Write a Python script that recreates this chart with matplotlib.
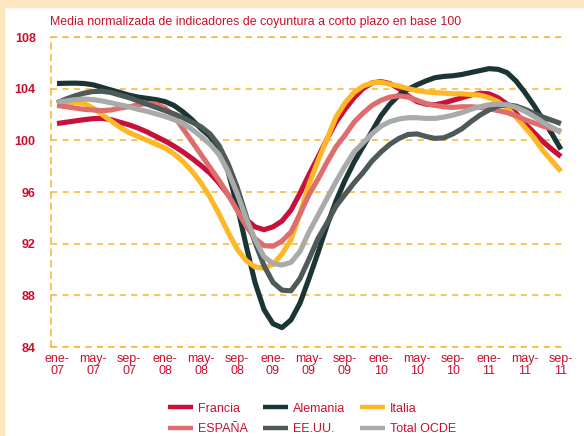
import matplotlib
matplotlib.use("Agg")
import matplotlib.pyplot as plt
from matplotlib.patches import Rectangle

# ---------------- data ----------------
tick_labels = ["ene-\n07", "may-\n07", "sep-\n07", "ene-\n08", "may-\n08", "sep-\n08",
               "ene-\n09", "may-\n09", "sep-\n09", "ene-\n10", "may-\n10", "sep-\n10",
               "ene-\n11", "may-\n11", "sep-\n11"]
months = list(range(57))  # ene-07 .. sep-11, monthly

francia = [101.3, 101.4, 101.5, 101.6, 101.68, 101.7, 101.6, 101.4, 101.2, 100.95,
           100.65, 100.3, 99.95, 99.55, 99.1, 98.6, 98.05, 97.45, 96.7, 95.8,
           94.8, 93.9, 93.3, 93.08, 93.3, 93.75, 94.6, 95.9, 97.35, 98.7,
           100.1, 101.4, 102.4, 103.3, 104.0, 104.45, 104.55, 104.4, 104.0, 103.45,
           103.0, 102.8, 102.75, 102.9, 103.1, 103.3, 103.5, 103.65, 103.6, 103.3,
           102.8, 102.1, 101.3, 100.6, 99.9, 99.3, 98.75]
alemania = [104.4, 104.42, 104.43, 104.4, 104.3, 104.1, 103.9, 103.7, 103.5, 103.35,
            103.25, 103.15, 103.0, 102.7, 102.2, 101.6, 100.9, 100.3, 99.2, 97.6,
            95.0, 91.9, 89.0, 86.9, 85.8, 85.5, 86.1, 87.4, 89.3, 91.3,
            93.4, 95.3, 96.9, 98.3, 99.5, 100.7, 101.9, 102.8, 103.5, 103.95,
            104.3, 104.6, 104.85, 104.95, 105.0, 105.1, 105.25, 105.4, 105.55, 105.5,
            105.25, 104.6, 103.7, 102.7, 101.6, 100.5, 99.3]
italia = [102.8, 102.9, 102.95, 102.85, 102.5, 102.0, 101.5, 101.0, 100.6, 100.3,
          100.0, 99.7, 99.4, 98.95, 98.35, 97.6, 96.7, 95.6, 94.3, 92.9,
          91.6, 90.7, 90.2, 90.1, 90.4, 91.2, 92.3, 94.3, 96.6, 98.4,
          100.1, 101.8, 102.9, 103.7, 104.2, 104.45, 104.5, 104.35, 104.2, 104.0,
          103.85, 103.75, 103.7, 103.65, 103.6, 103.6, 103.55, 103.5, 103.3, 103.0,
          102.5, 101.8, 101.0, 100.2, 99.2, 98.4, 97.6]
espana = [102.7, 102.6, 102.5, 102.4, 102.35, 102.3, 102.35, 102.5, 102.6, 102.75,
          102.85, 102.8, 102.5, 101.9, 100.9, 99.9, 98.9, 97.9, 96.9, 95.8,
          94.6, 93.4, 92.4, 91.85, 91.8, 92.2, 92.9, 94.3, 95.8, 97.0,
          98.3, 99.5, 100.4, 101.4, 102.1, 102.7, 103.1, 103.35, 103.45, 103.35,
          103.1, 102.85, 102.7, 102.6, 102.55, 102.6, 102.6, 102.55, 102.45, 102.3,
          102.15, 101.9, 101.6, 101.35, 101.1, 100.9, 100.7]
eeuu = [102.9, 103.2, 103.45, 103.65, 103.78, 103.8, 103.7, 103.5, 103.3, 103.05,
        102.8, 102.55, 102.3, 102.05, 101.75, 101.4, 101.05, 100.5, 99.6, 98.2,
        96.4, 94.2, 92.1, 90.3, 89.0, 88.4, 88.35, 89.3, 90.8, 92.4,
        93.6, 94.9, 95.8, 96.7, 97.5, 98.4, 99.1, 99.7, 100.15, 100.45,
        100.5, 100.3, 100.15, 100.2, 100.5, 100.9, 101.45, 101.95, 102.35, 102.65,
        102.75, 102.65, 102.4, 102.1, 101.8, 101.55, 101.3]
ocde = [102.95, 103.05, 103.15, 103.2, 103.15, 103.05, 102.9, 102.75, 102.6, 102.4,
        102.25, 102.05, 101.85, 101.6, 101.3, 100.85, 100.3, 99.7, 98.9, 97.6,
        95.9, 94.0, 92.3, 91.0, 90.45, 90.35, 90.55, 91.4, 92.9, 94.2,
        95.5, 96.8, 98.0, 99.1, 99.8, 100.5, 101.1, 101.45, 101.65, 101.75,
        101.75, 101.7, 101.7, 101.8, 101.95, 102.15, 102.4, 102.6, 102.75, 102.8,
        102.75, 102.55, 102.25, 101.85, 101.4, 101.0, 100.6]

series_names = ["Francia", "Alemania", "Italia", "ESPAÑA", "EE.UU.", "Total OCDE"]
yticks = [84, 88, 92, 96, 100, 104, 108]
title = "Media normalizada de indicadores de coyuntura a corto plazo en base 100"

# ---------------- style ----------------
plt.rcParams["font.family"] = ["Liberation Sans", "DejaVu Sans"]

RED = "#C8102E"
GRID = "#F9B42D"
BEIGE = "#FDE6BF"
colors = ["#C8103A", "#1B3535", "#FDB827", "#DE6E6E", "#4E5A5A", "#A9ABAB"]
data = [francia, alemania, italia, espana, eeuu, ocde]

fig = plt.figure(figsize=(5.84, 4.36), dpi=100)
fig.patches.append(Rectangle((0, 1 - 7 / 436), 1, 7 / 436, transform=fig.transFigure,
                             color=BEIGE, zorder=0))
fig.patches.append(Rectangle((0, 0), 4 / 584, 1, transform=fig.transFigure,
                             color=BEIGE, zorder=0))

ax = fig.add_axes([51 / 584, (436 - 347) / 436, (565 - 51) / 584, (347 - 37) / 436])
handles = []
for vals, c, n in zip(data, colors, series_names):
    h, = ax.plot(months, vals, color=c, lw=3.7, solid_capstyle="butt",
                 solid_joinstyle="round", label=n, zorder=3)
    handles.append(h)

ax.set_xlim(-0.67, 56.45)
ax.set_ylim(84, 108)
ax.set_yticks(yticks)
ax.set_yticklabels([str(v) for v in yticks], fontweight="bold", color=RED, fontsize=9)
ax.set_xticks(months[::4])
ax.set_xticklabels(tick_labels, color=RED, fontsize=9, linespacing=1.0)
ax.tick_params(axis="both", length=0)
ax.tick_params(axis="y", pad=11)
ax.tick_params(axis="x", pad=4)
for s in ["top", "right", "bottom"]:
    ax.spines[s].set_visible(False)
ax.spines["left"].set_color(GRID)
ax.spines["left"].set_linestyle((0, (4, 3.5)))
ax.spines["left"].set_linewidth(1.1)
ax.yaxis.grid(True, color=GRID, linestyle=(0, (4, 3.5)), linewidth=1.1, zorder=1)
ax.set_axisbelow(True)
for yl in [84, 108]:
    ax.axhline(yl, color=GRID, linestyle=(0, (4, 3.5)), linewidth=1.1, zorder=1, clip_on=False)

fig.text(50 / 584, 1 - 22 / 436, title, color=RED, fontsize=8.9, va="center", ha="left")

order = [0, 3, 1, 4, 2, 5]
leg = fig.legend([handles[i] for i in order], [series_names[i] for i in order],
                 ncol=3, loc="center", bbox_to_anchor=(312 / 584, 1 - 419 / 436),
                 frameon=False, fontsize=9, handlelength=2.0, handletextpad=0.4,
                 columnspacing=1.2, labelspacing=0.7)
for t in leg.get_texts():
    t.set_color(RED)
for l in leg.get_lines():
    l.set_linewidth(3.2)

fig.savefig("out.png", dpi=100)
